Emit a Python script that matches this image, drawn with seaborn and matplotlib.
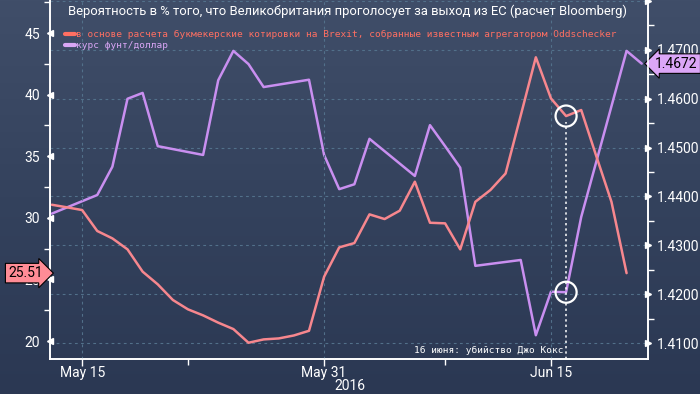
import matplotlib
matplotlib.use("Agg")
import matplotlib.pyplot as plt
import matplotlib.transforms as mtransforms
from matplotlib.colors import LinearSegmentedColormap
import seaborn as sns
import pandas as pd
import numpy as np

# ---------------- data ----------------
odds_dates = pd.date_range("2016-05-13", "2016-06-20", freq="D")
odds_prob = [31.06, 30.85, 30.63, 28.93, 28.33, 27.44, 25.63, 24.60, 23.33, 22.57,
             22.08, 21.49, 20.97, 19.86, 20.13, 20.21, 20.45, 20.83, 25.22, 27.60,
             27.95, 30.28, 29.90, 30.58, 32.93, 29.60, 29.55, 27.44, 31.30, 32.26,
             33.60, 38.30, 43.03, 39.69, 38.26, 38.75, 35.00, 31.30, 25.51]

fx_dates = pd.to_datetime([
    "2016-05-13", "2016-05-16", "2016-05-17", "2016-05-18", "2016-05-19", "2016-05-20",
    "2016-05-23", "2016-05-24", "2016-05-25", "2016-05-26", "2016-05-27", "2016-05-30",
    "2016-05-31", "2016-06-01", "2016-06-02", "2016-06-03", "2016-06-06", "2016-06-07",
    "2016-06-08", "2016-06-09", "2016-06-10", "2016-06-13", "2016-06-14", "2016-06-15",
    "2016-06-16", "2016-06-17", "2016-06-20", "2016-06-21"])
fx_rate = [1.4365, 1.4403, 1.4461, 1.4600, 1.4612, 1.4503,
           1.4485, 1.4638, 1.4698, 1.4671, 1.4624, 1.4639,
           1.4485, 1.4415, 1.4425, 1.4518, 1.4442, 1.4546,
           1.4503, 1.4459, 1.4258, 1.4270, 1.4116, 1.4205,
           1.4204, 1.4358, 1.4698, 1.4672]

title = "Вероятность в % того, что Великобритания проголосует за выход из ЕС (расчет Bloomberg)"
label_odds = "в основе расчета букмекерские котировки на Brexit, собранные известным агрегатором Oddschecker"
label_fx = "курс фунт/доллар"
event_date = pd.Timestamp("2016-06-16")
event_text = "16 июня: убийство Джо Кокс"
last_odds_label = "25.51"
last_fx_label = "1.4672"

left_ticks = [20, 25, 30, 35, 40, 45]
left_minor = [22.5, 27.5, 32.5, 37.5, 42.5, 47.5]
right_ticks = [1.41, 1.42, 1.43, 1.44, 1.45, 1.46, 1.47, 1.48]
right_minor = [1.415, 1.425, 1.435, 1.445, 1.455, 1.465, 1.475]
x_major = pd.to_datetime(["2016-05-15", "2016-05-31", "2016-06-15"])
x_major_labels = ["May 15", "May 31", "Jun 15"]
x_minor = pd.to_datetime(["2016-05-22", "2016-06-08"])
year_label = "2016"

df_odds = pd.DataFrame({"date": odds_dates, "prob": odds_prob})
df_fx = pd.DataFrame({"date": fx_dates, "rate": fx_rate})

# ---------------- style ----------------
sns.set_style("ticks")
plt.rcParams["font.family"] = ["Roboto", "DejaVu Sans"]

PINK = "#f7878e"
PINK_TXT = "#ff6f62"
PURPLE = "#c98ff0"
PURPLE_TXT = "#d9a6f5"
GRID = "#52708a"
WHITE = "#ffffff"
TICKFS = 10

fig = plt.figure(figsize=(7, 3.94), dpi=100)

# background gradient
bga = fig.add_axes([0, 0, 1, 1], zorder=-10)
cmap = LinearSegmentedColormap.from_list("bg", ["#2b3853", "#34425d", "#404e69"])
grad = np.linspace(0, 1, 256).reshape(-1, 1)
bga.imshow(grad, aspect="auto", cmap=cmap, origin="lower", extent=[0, 1, 0, 1])
bga.axis("off")

ax = fig.add_axes([50 / 700, 1 - 359 / 394, 598 / 700, 359 / 394])
ax2 = ax.twinx()
ax.set_zorder(ax2.get_zorder() + 1)
ax.patch.set_visible(False)
ax2.patch.set_visible(False)

sns.lineplot(data=df_fx, x="date", y="rate", ax=ax2, color=PURPLE, lw=1.8, label=label_fx)
sns.lineplot(data=df_odds, x="date", y="prob", ax=ax, color=PINK, lw=1.8, label=label_odds)

ax.set_xlim(pd.Timestamp("2016-05-12 21:00"), pd.Timestamp("2016-06-21 10:00"))
ax.set_ylim(18.54, 47.68)
ax2.set_ylim(1.40673, 1.48022)

for a in (ax, ax2):
    a.set_xlabel("")
    a.set_ylabel("")

# x ticks
ax.set_xticks(x_major)
ax.set_xticklabels(x_major_labels)
ax.set_xticks(x_minor, minor=True)
ax.tick_params(axis="x", which="major", colors=WHITE, length=5, width=1, labelsize=TICKFS, pad=0)
ax.tick_params(axis="x", which="minor", colors=WHITE, length=4, width=1)

# left y ticks
ax.set_yticks(left_ticks)
ax.set_yticks(left_minor, minor=True)
ax.tick_params(axis="y", which="major", colors=WHITE, length=6, width=1, labelsize=TICKFS, pad=1)
ax.tick_params(axis="y", which="minor", colors=WHITE, length=4, width=1)

# right y ticks
ax2.set_yticks(right_ticks)
ax2.set_yticklabels([f"{v:.4f}" for v in right_ticks[:-1]] + [""])
ax2.set_yticks(right_minor, minor=True)
ax2.tick_params(axis="y", which="major", colors=WHITE, length=6, width=1, labelsize=TICKFS, pad=0.5)
ax2.tick_params(axis="y", which="minor", colors=WHITE, length=4, width=1)

# triangular major tick markers
for t in ax.yaxis.get_major_ticks():
    t.tick1line.set_marker("<")
    t.tick1line.set_markersize(5)
for t in ax2.yaxis.get_major_ticks():
    t.tick2line.set_marker(">")
    t.tick2line.set_markersize(5)

# grid
ax2.grid(axis="y", color=GRID, ls=(0, (2.5, 3)), lw=0.8)
ax.grid(axis="x", color=GRID, ls=(0, (2.5, 3)), lw=0.8)
ax.grid(axis="y", visible=False)

for a in (ax, ax2):
    a.spines["top"].set_visible(False)
    for s in ("left", "right", "bottom"):
        a.spines[s].set_color(WHITE)
        a.spines[s].set_linewidth(1.2)

# year label
fig.text(350 / 700, 1 - 386 / 394, year_label, color=WHITE, fontsize=TICKFS, ha="center", va="center")

# title
fig.text(68 / 700, 1 - 11 / 394, title, color=WHITE, fontsize=9.4, ha="left", va="center")

# legend
for a in (ax, ax2):
    if a.get_legend():
        a.get_legend().remove()
h1, l1 = ax.get_legend_handles_labels()
h2, l2 = ax2.get_legend_handles_labels()
leg = fig.legend(h1 + h2, l1 + l2, loc="upper left", bbox_to_anchor=(65 / 700, 1 - 30 / 394),
                 frameon=False, handlelength=1.1, handletextpad=0.1, labelspacing=0.25,
                 borderaxespad=0, borderpad=0,
                 prop={"family": "DejaVu Sans Mono", "size": 6.8})
for txt, col in zip(leg.get_texts(), [PINK_TXT, PURPLE_TXT]):
    txt.set_color(col)
for line, col in zip(leg.get_lines(), [PINK_TXT, PURPLE_TXT]):
    line.set_color(col)
    line.set_linewidth(3)

# event marker
ax.scatter([event_date], [odds_prob[list(odds_dates).index(event_date)]], s=230,
           facecolors="none", edgecolors=WHITE, linewidths=1.6, zorder=5)
ax2.scatter([event_date], [fx_rate[list(fx_dates).index(event_date)]], s=230,
            facecolors="none", edgecolors=WHITE, linewidths=1.6, zorder=5)
ax.axvline(event_date, ymin=0, ymax=(359 - 122) / 359, color=WHITE, ls=(0, (1.5, 2)), lw=1.1, zorder=4)
ax.text(event_date - pd.Timedelta(hours=4), 19.2, event_text, color=WHITE, ha="right", va="center",
        fontsize=6.8, family="DejaVu Sans Mono", zorder=6)

# last value labels
tl = mtransforms.blended_transform_factory(ax.transAxes, ax.transData)
ax.text(-0.012, odds_prob[-1], last_odds_label, transform=tl, ha="right", va="center", fontsize=TICKFS,
        color="black", clip_on=False, zorder=10,
        bbox=dict(boxstyle="rarrow,pad=0.2", fc="#ff8c96", ec="black", lw=0.8))
tr = mtransforms.blended_transform_factory(ax2.transAxes, ax2.transData)
ax2.text(1.012, fx_rate[-1], last_fx_label, transform=tr, ha="left", va="center", fontsize=TICKFS,
         color="black", clip_on=False, zorder=10,
         bbox=dict(boxstyle="larrow,pad=0.2", fc="#dba6f7", ec="black", lw=0.8))

fig.savefig("out.png", dpi=100)
